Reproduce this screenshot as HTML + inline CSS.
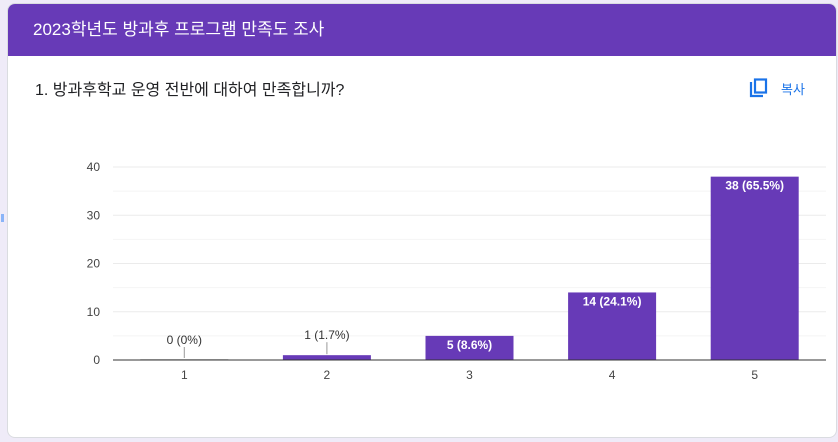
<!DOCTYPE html>
<html><head><meta charset="utf-8"><style>
html,body{margin:0;padding:0;width:838px;height:442px;overflow:hidden;background:#efebf8;font-family:"Liberation Sans","Noto Sans CJK KR",sans-serif;}
#card{position:absolute;left:7px;top:3px;width:830px;height:435px;background:#fff;border:1px solid #dadce0;border-radius:8px;overflow:hidden;box-sizing:border-box;}
#hdr{position:absolute;left:0;top:0;width:100%;height:52px;background:#673ab7;color:#fff;font-size:17px;line-height:52px;padding-left:25px;box-sizing:border-box;}
#q{position:absolute;left:27px;top:72px;font-size:16px;color:#202124;}
#copy{position:absolute;left:741px;top:74px;color:#1a73e8;font-size:13px;}
#mark{position:absolute;left:1px;top:214px;width:3px;height:8px;background:#8ab4f8;}
</style></head><body>
<div id="mark"></div>
<div id="card">
<div id="hdr">2023학년도 방과후 프로그램 만족도 조사</div>
<div id="q">1. 방과후학교 운영 전반에 대하여 만족합니까?</div>
<div id="copy"><svg width="20" height="20" viewBox="0 0 20 20" style="vertical-align:middle"><path d="M2 4v14h12" fill="none" stroke="#1a73e8" stroke-width="2.2"/><rect x="6" y="1.5" width="11" height="13" fill="none" stroke="#1a73e8" stroke-width="2.2"/></svg><span style="margin-left:12px;vertical-align:middle">복사</span></div>
</div>
<svg id="chart" width="838" height="442" style="position:absolute;left:0;top:0"></svg>
<script>
const categories=["1","2","3","4","5"];
const counts=[0,1,5,14,38];
const percents=["0%","1.7%","8.6%","24.1%","65.5%"];
const yTicks=[0,10,20,30,40];
const NS="http://www.w3.org/2000/svg";
const svg=document.getElementById('chart');
const L=113,R=826,B=360,T=167,yMax=40;
const y=v=>B-(v/yMax)*(B-T);
const band=(R-L)/categories.length;
const x=i=>L+band*(i+0.5);
function mk(t,a){const e=document.createElementNS(NS,t);for(const k in a)e.setAttribute(k,a[k]);svg.appendChild(e);return e;}
for(let v=0;v<=yMax;v+=5){if(v===0)continue;
 const g=mk('line',{x1:L,x2:R,y1:y(v),y2:y(v),stroke:v%10===0?'#ebebeb':'#f4f4f4','stroke-width':1});
 
 }
yTicks.forEach(v=>{const t=mk('text',{x:L-13,y:y(v)+4,'text-anchor':'end','font-size':12,fill:'#444'});t.textContent=v;
 
 });
const bw=88;
categories.forEach((c,i)=>{
 const v=counts[i];const h=Math.max(B-y(v),1);
 const r=mk('rect',{x:x(i)-bw/2,y:B-h,width:bw,height:h,fill:v===0?'#ccc':'#673ab7'});
 
 
 const lbl=v+' ('+percents[i]+')';
 let t;
 if(B-y(v)<20){
  const ln=mk('line',{x1:x(i),x2:x(i),y1:B-h-1,y2:y(v)-13,stroke:'#999','stroke-width':1});
  
  
  t=mk('text',{x:x(i),y:y(v)-16,'text-anchor':'middle','font-size':12,fill:'#333'});
 }else{
  t=mk('text',{x:x(i),y:y(v)+13,'text-anchor':'middle','font-size':12,'font-weight':'bold',fill:'#fff'});
 }
 t.textContent=lbl;
 
 
 const xt=mk('text',{x:x(i),y:B+19,'text-anchor':'middle','font-size':12,fill:'#444'});xt.textContent=c;
 
 
});
const ax=mk('line',{x1:L,x2:R,y1:B,y2:B,stroke:'#333','stroke-width':1});


</script>
</body></html>
